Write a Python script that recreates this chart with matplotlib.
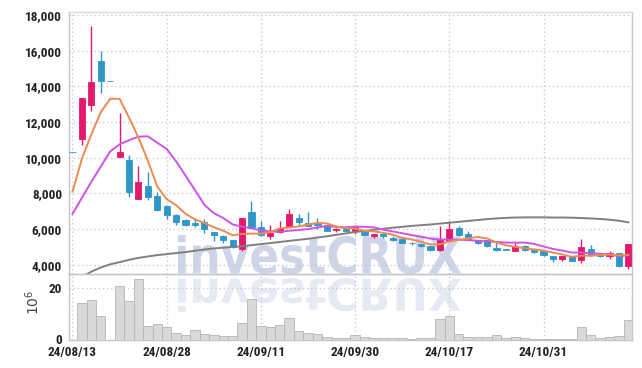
import numpy as np
import matplotlib
matplotlib.use("Agg")
import matplotlib.pyplot as plt
from matplotlib import font_manager
from matplotlib.font_manager import FontProperties
from matplotlib.textpath import TextPath
from matplotlib.patches import PathPatch
from matplotlib.transforms import Affine2D

# ──────────────────────────────────────────────
# DATEN
# ──────────────────────────────────────────────

dates = [
    "08/13", "08/14", "08/16", "08/19", "08/20", "08/21", "08/22", "08/23", "08/26", "08/27",
    "08/28", "08/29", "08/30", "09/02", "09/03", "09/04", "09/05", "09/06", "09/09", "09/10",
    "09/11", "09/12", "09/13", "09/19", "09/20", "09/23", "09/24", "09/25", "09/26", "09/27",
    "09/30", "10/02", "10/04", "10/07", "10/08", "10/10", "10/11", "10/14", "10/15", "10/16",
    "10/17", "10/18", "10/21", "10/22", "10/23", "10/24", "10/25", "10/28", "10/29", "10/30",
    "10/31", "11/01", "11/04", "11/05", "11/06", "11/07", "11/08", "11/11", "11/12", "11/13",
]

open_ = [10300, 11050, 12950, 15400, 14300, 10050, 9850, 7700, 8400, 7850,
         7300, 6800, 6500, 6350, 6400, 5850, 5600, 5400, 4900, 6950,
         6100, 5600, 5850, 6150, 6650, 6350, 6350, 6250, 5950, 6000,
         5900, 5850, 5600, 5700, 5500, 5450, 5250, 5150, 5050, 4850,
         5350, 6050, 5700, 5400, 5400, 4950, 4900, 4800, 5050, 4900,
         4750, 4500, 4300, 4500, 4250, 4900, 4600, 4500, 4650, 3950]
high = [10300, 13350, 17350, 16000, 14300, 12500, 10150, 9550, 9200, 8100,
        7350, 6850, 6550, 6600, 6550, 5850, 5650, 5400, 6600, 7550,
        6450, 6250, 6450, 7150, 6850, 6950, 6600, 6300, 6050, 6000,
        6100, 5900, 5750, 5700, 5600, 5450, 5300, 5150, 5050, 6200,
        6450, 6200, 5900, 5400, 5400, 5300, 4900, 5250, 5100, 4950,
        4750, 4500, 4500, 4500, 5450, 5100, 4650, 4750, 4650, 5150]
low = [10300, 10700, 12600, 13600, 14300, 10050, 7800, 7700, 7650, 7000,
       6550, 6250, 6150, 6100, 5800, 5350, 5250, 4950, 4800, 6050,
       5600, 5450, 5800, 6100, 6250, 6200, 6000, 5900, 5850, 5850,
       5700, 5600, 5500, 5500, 5350, 5200, 5100, 5000, 4800, 4800,
       5350, 5600, 5450, 5150, 5000, 4800, 4850, 4800, 4800, 4650,
       4500, 4150, 4200, 4200, 4100, 4500, 4450, 4350, 3900, 3750]
close = [10300, 13350, 14250, 14300, 14300, 10300, 8100, 8650, 7800, 7050,
         6800, 6400, 6250, 6250, 6000, 5650, 5400, 5000, 6600, 6100,
         5650, 5800, 6050, 6850, 6400, 6200, 6250, 5900, 6000, 5900,
         6100, 5650, 5700, 5600, 5400, 5200, 5200, 5050, 4850, 5450,
         6000, 5650, 5450, 5250, 5050, 4850, 4850, 5050, 4850, 4700,
         4550, 4300, 4500, 4200, 5000, 4550, 4500, 4650, 3950, 5150]

# Volumen in 10^6
volume = [0, 14.4, 15.4, 9.2, 0, 20.9, 15.0, 23.6, 5.3, 6.1,
          4.9, 2.5, 1.6, 3.7, 2.1, 1.6, 1.2, 1.2, 6.4, 15.8,
          5.3, 4.9, 5.7, 8.3, 3.3, 2.5, 2.1, 1.0, 0.7, 0.7,
          1.6, 0.8, 0.5, 0.5, 0.4, 0.4, 0.3, 0.4, 0.5, 7.9,
          9.1, 2.1, 1.0, 0.8, 0.8, 1.6, 0.6, 0.8, 0.4, 0.3,
          0.3, 0.3, 0.3, 0.3, 4.8, 1.6, 0.6, 0.8, 1.2, 7.5]

ma5 = [8100, 9950, 11300, 12550, 13300, 13300, 12250, 11130, 9830, 8380,
       7680, 7340, 6860, 6550, 6340, 6110, 5910, 5660, 5730, 5750,
       5750, 5830, 6040, 6090, 6150, 6260, 6350, 6320, 6150, 6050,
       6030, 5910, 5870, 5790, 5690, 5510, 5420, 5290, 5140, 5150,
       5310, 5400, 5480, 5560, 5480, 5250, 5090, 5010, 4930, 4860,
       4800, 4690, 4580, 4450, 4510, 4510, 4550, 4580, 4530, 4560]
ma10 = [6850, 7750, 8650, 9500, 10350, 10750, 10980, 11180, 11200, 10840,
        10490, 9795, 8995, 8190, 7360, 6895, 6625, 6260, 6140, 6045,
        5930, 5870, 5850, 5910, 5950, 6005, 6090, 6180, 6120, 6100,
        6145, 6130, 6095, 5970, 5870, 5770, 5665, 5580, 5465, 5420,
        5410, 5410, 5385, 5350, 5315, 5280, 5245, 5245, 5245, 5170,
        5025, 4890, 4795, 4690, 4685, 4655, 4620, 4580, 4490, 4535]
ma60 = [np.nan, 3300, 3620, 3850, 4030, 4150, 4280, 4390, 4470, 4545,
        4600, 4660, 4715, 4790, 4860, 4920, 4960, 5000, 5040, 5100,
        5160, 5220, 5280, 5340, 5400, 5460, 5530, 5600, 5680, 5760,
        5840, 5900, 5960, 6020, 6080, 6130, 6180, 6220, 6260, 6310,
        6360, 6410, 6460, 6510, 6560, 6600, 6630, 6650, 6660, 6660,
        6660, 6650, 6650, 6640, 6620, 6600, 6570, 6530, 6470, 6380]

price_ticks = [4000, 6000, 8000, 10000, 12000, 14000, 16000, 18000]
vol_ticks = [0, 20]
LABEL_EVERY = 10
WATERMARK = "investCRUX"

# ──────────────────────────────────────────────
# STIL
# ──────────────────────────────────────────────

UP_COLOR = "#e2196c"
DOWN_COLOR = "#2f96c8"
GRID_COLOR = "#c6cbdb"
SPINE_COLOR = "#c4c6ce"
TEXT_COLOR = "#222222"

available = {f.name for f in font_manager.fontManager.ttflist}
for fam in ["Liberation Sans Narrow", "Roboto Condensed", "Roboto", "Liberation Sans"]:
    if fam in available:
        TICK_FONT = fam
        break
else:
    TICK_FONT = "DejaVu Sans"

W, H = 642, 368
fig = plt.figure(figsize=(W / 100, H / 100), dpi=100)
fig.patch.set_facecolor("white")

left, right = 69, 632.3
top, split, bottom = 11.5, 274.3, 339.5
ax = fig.add_axes([left / W, 1 - split / H, (right - left) / W, (split - top) / H])
axv = fig.add_axes([left / W, 1 - bottom / H, (right - left) / W, (bottom - split) / H],
                   sharex=ax)
for a in (ax, axv):
    a.set_facecolor("none")

# ── Wasserzeichen mit Spiegelung ──
fp = FontProperties(family="DejaVu Sans", weight="bold")
tp = TextPath((0, 0), WATERMARK, size=100, prop=fp)
ext = tp.get_extents()


def add_mark(x0, x1, y_base, y_far, flip, color):
    sx = (x1 - x0) / ext.width
    sy = abs(y_base - y_far) / ext.height
    sign = -1 if flip else 1
    tr = (Affine2D().translate(-ext.x0, -ext.y0)
          .scale(sx / W, sign * sy / H)
          .translate(x0 / W, 1 - y_base / H)) + fig.transFigure
    fig.add_artist(PathPatch(tp, transform=tr, facecolor=color,
                             edgecolor="none", zorder=-1))


add_mark(178, 461, 274, 235, False, "#cfd4e6")
add_mark(178, 461, 278, 312, True, "#e8eaf3")

# ── Kerzen ──
x = np.arange(len(close))
o = np.array(open_, dtype=float)
c = np.array(close, dtype=float)
cols = np.where(c > o, UP_COLOR, DOWN_COLOR)

ax.vlines(x, low, high, colors=cols, lw=1.0, zorder=3)
ax.bar(x, np.abs(c - o), bottom=np.minimum(o, c), width=0.65, color=cols,
       edgecolor=cols, lw=0.6, zorder=3)

ax.plot(x, ma60, color="#808080", lw=1.4, zorder=4)
ax.plot(x, ma10, color="#cc55e6", lw=1.4, zorder=4)
ax.plot(x, ma5, color="#f08a50", lw=1.4, zorder=4)

# ── Volumen ──
axv.bar(x, volume, width=1.0, color="#d9d9d9", edgecolor="#b5b5b5", lw=0.6, zorder=3)

# ── Achsen ──
ax.set_xlim(-0.37, 59.42)
ax.set_ylim(3470, 18190)
axv.set_ylim(0, 25.5)

tick_pos = list(range(0, len(dates), LABEL_EVERY))
ax.set_xticks(tick_pos)
axv.set_xticks(tick_pos)
axv.set_xticklabels([f"24/{dates[i]}" for i in tick_pos])
ax.tick_params(labelbottom=False)

ax.set_yticks(price_ticks)
ax.set_yticklabels([f"{t:,}" for t in price_ticks])
axv.set_yticks(vol_ticks)

dash = (0, (1, 2))
for a in (ax, axv):
    a.grid(True, linestyle=dash, color=GRID_COLOR, lw=1, zorder=0)
    a.set_axisbelow(True)
    a.tick_params(length=0, colors=TEXT_COLOR, pad=5)
    for lbl in a.get_xticklabels() + a.get_yticklabels():
        lbl.set_fontfamily(TICK_FONT)
        lbl.set_fontsize(9.5)
        lbl.set_fontweight("bold")
    for s in a.spines.values():
        s.set_color(SPINE_COLOR)
        s.set_linewidth(1)
ax.spines["top"].set_color("#dcdcdc")

fig.text(33 / W, 1 - 302 / H, r"$10^6$", rotation=90, ha="center", va="center",
         fontsize=10, color="#444444")

fig.savefig("out.png", dpi=100)
